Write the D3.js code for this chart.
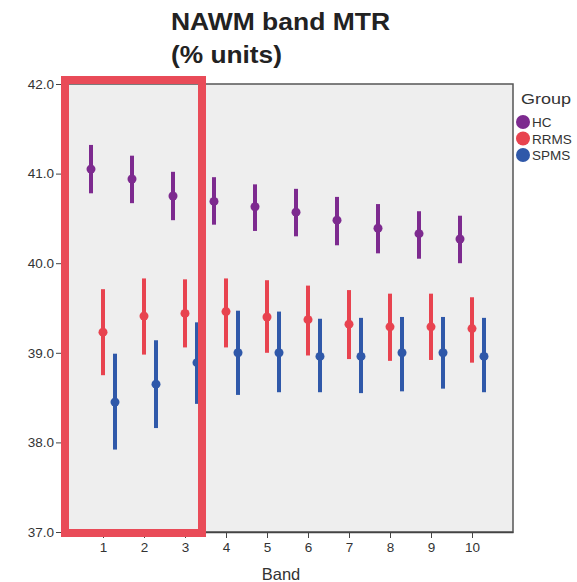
<!DOCTYPE html>
<html>
<head>
<meta charset="utf-8">
<script src="https://cdn.jsdelivr.net/npm/d3@7"></script>
<style>
  body { margin: 0; background: #fff; }
  text { font-family: "Liberation Sans", Arial, sans-serif; }
</style>
</head>
<body>
<div id="chart"></div>
<script>
// Bands on the x axis
const bands = [1, 2, 3, 4, 5, 6, 7, 8, 9, 10];
const groups = ["HC", "RRMS", "SPMS"];
const groupColors = ["#7d2a8f", "#e8434f", "#2f58a9"];

// mean, upper and lower CI per group
const hcMean  = [41.05, 40.94, 40.75, 40.69, 40.63, 40.57, 40.48, 40.39, 40.33, 40.27];
const hcHigh  = [41.32, 41.20, 41.02, 40.96, 40.88, 40.83, 40.74, 40.66, 40.58, 40.53];
const hcLow   = [40.78, 40.67, 40.48, 40.43, 40.36, 40.30, 40.20, 40.11, 40.05, 40.00];
const rrMean  = [39.23, 39.41, 39.44, 39.46, 39.40, 39.37, 39.32, 39.29, 39.29, 39.27];
const rrHigh  = [39.71, 39.83, 39.82, 39.83, 39.81, 39.75, 39.70, 39.66, 39.66, 39.62];
const rrLow   = [38.75, 38.98, 39.06, 39.06, 39.00, 38.97, 38.93, 38.91, 38.92, 38.89];
const spMean  = [38.45, 38.65, 38.89, 39.00, 39.00, 38.96, 38.96, 39.00, 39.00, 38.96];
const spHigh  = [38.99, 39.14, 39.34, 39.47, 39.46, 39.38, 39.39, 39.40, 39.40, 39.39];
const spLow   = [37.92, 38.16, 38.43, 38.53, 38.56, 38.56, 38.55, 38.57, 38.60, 38.56];
const yTicks = [37, 38, 39, 40, 41, 42];
// highlighted bands (red box)
const highlight = [1, 3];

const width = 577, height = 582;
const plot = { left: 62, right: 513, top: 84, bottom: 532 };

const svg = d3.select("#chart").append("svg")
  .attr("width", width)
  .attr("height", height);

const x = d3.scaleLinear().domain([0, 11]).range([plot.left, plot.right]);
const y = d3.scaleLinear().domain([37, 42]).range([plot.bottom, plot.top]);
const offset = d3.scalePoint().domain(groups).range([-12, 12]);

// title
const title = svg.append("text")
  .attr("font-size", 24)
  .attr("font-weight", "bold")
  .attr("fill", "#222");
title.append("tspan").attr("x", 171).attr("y", 30)
  .attr("textLength", 219).attr("lengthAdjust", "spacingAndGlyphs")
  .text("NAWM band MTR");
title.append("tspan").attr("x", 171).attr("y", 63)
  .attr("textLength", 111).attr("lengthAdjust", "spacingAndGlyphs")
  .text("(% units)");

// plot background and frame
svg.append("rect")
  .attr("x", plot.left).attr("y", plot.top)
  .attr("width", plot.right - plot.left)
  .attr("height", plot.bottom - plot.top)
  .attr("fill", "#eeeeee")
  .attr("stroke", "#555")
  .attr("stroke-width", 1.5);

// y axis
svg.append("g")
  .attr("transform", `translate(${plot.left},0)`)
  .call(d3.axisLeft(y).tickValues(yTicks).tickFormat(d3.format(".1f"))
    .tickSize(6).tickSizeOuter(0).tickPadding(2))
  .call(g => g.select(".domain").attr("stroke", "#444"))
  .call(g => g.selectAll(".tick line").attr("stroke", "#444"))
  .call(g => g.selectAll("text").attr("font-size", 13.5).attr("fill", "#333")
    .style("font-family", "'Liberation Sans', Arial, sans-serif"));

// x axis
svg.append("g")
  .attr("transform", `translate(0,${plot.bottom})`)
  .call(d3.axisBottom(x).tickValues(bands).tickFormat(d3.format("d"))
    .tickSize(6).tickSizeOuter(0).tickPadding(4))
  .call(g => g.select(".domain").attr("stroke", "#444").attr("stroke-width", 1.5))
  .call(g => g.selectAll(".tick line").attr("stroke", "#444"))
  .call(g => g.selectAll("text").attr("font-size", 13.5).attr("fill", "#333")
    .style("font-family", "'Liberation Sans', Arial, sans-serif"));

svg.append("text")
  .attr("x", 281).attr("y", 580)
  .attr("text-anchor", "middle")
  .attr("font-size", 16.5)
  .attr("fill", "#333")
  .text("Band");

// build rows for error bars
const series = [
  { group: "HC", mean: hcMean, high: hcHigh, low: hcLow },
  { group: "RRMS", mean: rrMean, high: rrHigh, low: rrLow },
  { group: "SPMS", mean: spMean, high: spHigh, low: spLow }
];
const rows = [];
series.forEach((s, gi) => {
  bands.forEach((b, i) => {
    rows.push({ band: b, group: s.group, color: groupColors[gi],
      mean: s.mean[i], high: s.high[i], low: s.low[i] });
  });
});

const marks = svg.append("g").selectAll("g")
  .data(rows)
  .join("g")
  .attr("transform", d => `translate(${x(d.band) + offset(d.group)},0)`);

marks.append("line")
  .attr("y1", d => y(d.high))
  .attr("y2", d => y(d.low))
  .attr("stroke", d => d.color)
  .attr("stroke-width", 4);

marks.append("circle")
  .attr("cy", d => y(d.mean))
  .attr("r", 4.5)
  .attr("fill", d => d.color);

// legend
const legend = svg.append("g").attr("transform", "translate(516,0)");
legend.append("text")
  .attr("x", 5).attr("y", 104)
  .attr("font-size", 15)
  .attr("textLength", 50).attr("lengthAdjust", "spacingAndGlyphs")
  .attr("fill", "#333")
  .text("Group");
const item = legend.selectAll("g.item")
  .data(groups)
  .join("g")
  .attr("class", "item")
  .attr("transform", (d, i) => `translate(0,${122 + i * 16.5})`);
item.append("circle")
  .attr("cx", 7).attr("r", 7)
  .attr("fill", (d, i) => groupColors[i]);
item.append("text")
  .attr("x", 16).attr("y", 5)
  .attr("font-size", 13.5)
  .attr("fill", "#333")
  .text(d => d);

// red highlight box round bands 1-3
svg.append("rect")
  .attr("x", x(highlight[0]) - 38)
  .attr("y", 80)
  .attr("width", x(highlight[1]) - x(highlight[0]) + 55)
  .attr("height", 453)
  .attr("fill", "none")
  .attr("stroke", "#e94b58")
  .attr("stroke-width", 8);
</script>
</body>
</html>
